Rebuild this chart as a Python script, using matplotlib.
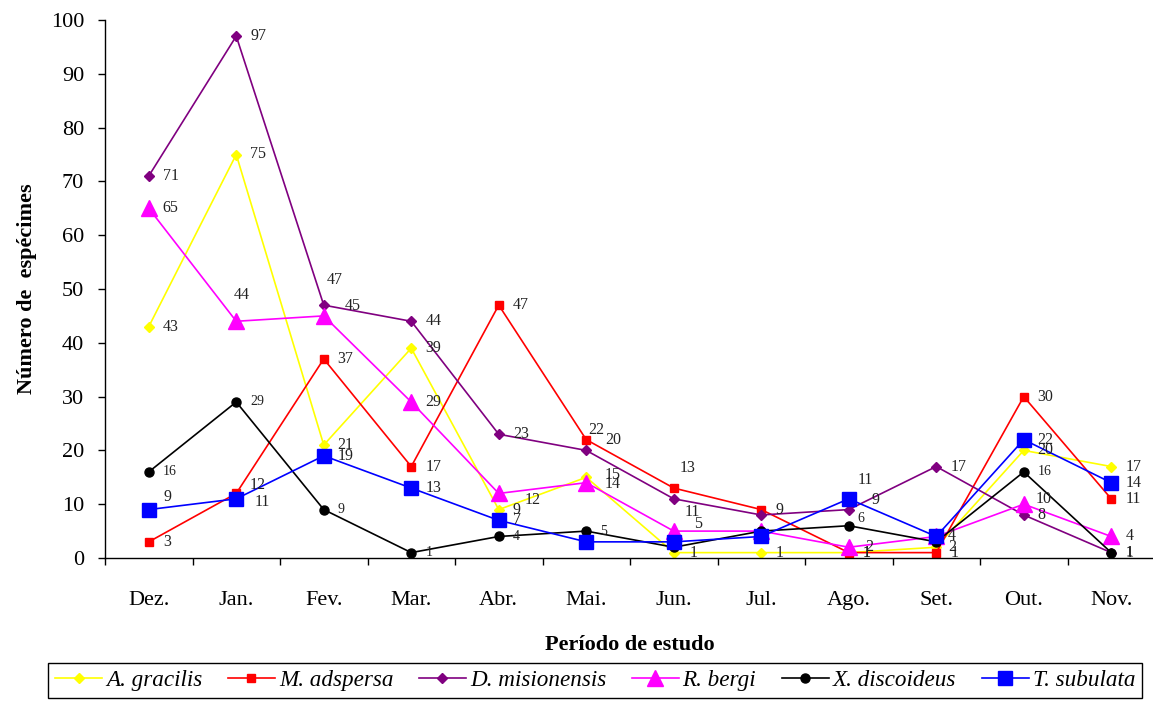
import matplotlib
matplotlib.use("Agg")
import matplotlib.pyplot as plt
from matplotlib.ticker import FixedLocator, MultipleLocator, NullFormatter

# ── data ─────────────────────────────────────────────────────────────────────
months = ["Dez.", "Jan.", "Fev.", "Mar.", "Abr.", "Mai.",
          "Jun.", "Jul.", "Ago.", "Set.", "Out.", "Nov."]

a_gracilis    = [43, 75, 21, 39,  9, 15,  1, 1,  1,  2, 20, 17]
m_adspersa    = [ 3, 12, 37, 17, 47, 22, 13, 9,  1,  1, 30, 11]
d_misionensis = [71, 97, 47, 44, 23, 20, 11, 8,  9, 17,  8,  1]
r_bergi       = [65, 44, 45, 29, 12, 14,  5, 5,  2,  4, 10,  4]
x_discoideus  = [16, 29,  9,  1,  4,  5,  2, 5,  6,  3, 16,  1]
t_subulata    = [ 9, 11, 19, 13,  7,  3,  3, 4, 11,  4, 22, 14]

# ── style ─────────────────────────────────────────────────────────────────────
plt.rcParams.update({
    "font.family": "Liberation Serif",
    "axes.spines.top": False, "axes.spines.right": False,
})

# key, values, legend name, colour, marker, marker size, label size
series = [
    ("ag", a_gracilis,    "A. gracilis",    "#FFFF00", "D", 5.0,  11.5),
    ("ma", m_adspersa,    "M. adspersa",    "#FF0000", "s", 6.0,  11.5),
    ("dm", d_misionensis, "D. misionensis", "#800080", "D", 5.0,  11.5),
    ("rb", r_bergi,       "R. bergi",       "#FF00FF", "^", 12.0, 11.5),
    ("xd", x_discoideus,  "X. discoideus",  "#000000", "o", 6.5,  10),
    ("ts", t_subulata,    "T. subulata",    "#0000FF", "s", 10.0, 11.5),
]

# value-label placement (pixels right / up of the point); default is just right
DEFAULT_OFF = (14, 0)
label_off = {
    ("dm", 2): (3, 25),  ("rb", 1): (-2, 26), ("ma", 1): (13, 8),
    ("ts", 1): (18, -3), ("rb", 2): (21, 10), ("ts", 0): (15, 13),
    ("ma", 5): (2, 10),  ("dm", 5): (19, 10), ("ag", 5): (18, 2),
    ("rb", 5): (18, -1), ("ma", 6): (6, 20),  ("dm", 6): (11, -13),
    ("rb", 6): (20, 7),  ("ag", 6): (16, 0),  ("ts", 8): (9, 19),
    ("dm", 8): (23, 10), ("xd", 8): (9, 7),   ("rb", 8): (17, 0),
    ("rb", 10): (12, 5), ("rb", 4): (26, -7), ("ag", 9): (12, 0),
    ("ts", 9): (12, 0),
}
no_label = {("ts", 5), ("ts", 6), ("xd", 6), ("ts", 7), ("xd", 7),
            ("rb", 7), ("dm", 7), ("rb", 9), ("xd", 9)}

# ── figure ────────────────────────────────────────────────────────────────────
fig = plt.figure(figsize=(11.53, 7.02), dpi=100)
ax = fig.add_axes([105 / 1153, 1 - 558 / 702, 1050 / 1153, 538 / 702])

x = list(range(len(months)))
for key, vals, name, color, mk, ms, fs in series:
    ax.plot(x, vals, color=color, lw=1.2, marker=mk, ms=ms,
            markerfacecolor=color, markeredgecolor=color, label=name,
            clip_on=False)
    for i, v in enumerate(vals):
        if (key, i) in no_label:
            continue
        dx, dy = label_off.get((key, i), DEFAULT_OFF)
        ax.annotate(str(v), xy=(i, v), xytext=(dx, dy),
                    textcoords="offset pixels", ha="left", va="center",
                    fontsize=fs, color="#222222")

ax.set_xlim(-0.5, len(months) - 0.5)
ax.set_ylim(0, 100)
ax.yaxis.set_major_locator(MultipleLocator(10))

# category ticks sit between months; labels are centred on the months
ax.xaxis.set_major_locator(FixedLocator([i - 0.5 for i in range(len(months) + 1)]))
ax.xaxis.set_major_formatter(NullFormatter())
ax.xaxis.set_minor_locator(FixedLocator(x))
ax.set_xticklabels(months, minor=True)
ax.tick_params(axis="x", which="major", direction="out", length=5, width=1)
ax.tick_params(axis="x", which="minor", length=0, pad=24, labelsize=16)
ax.tick_params(axis="y", direction="out", length=5, width=1, pad=10,
               labelsize=16)
for s in ("left", "bottom"):
    ax.spines[s].set_linewidth(1)
    ax.spines[s].set_color("black")

ax.set_ylabel("Número de  espécimes", fontsize=16, fontweight="bold",
              labelpad=10)
ax.set_xlabel("Período de estudo", fontsize=16, fontweight="bold",
              labelpad=18)

# legend box runs to the right edge of the figure
leg = fig.legend(loc="upper left", ncol=6,
                 bbox_to_anchor=(48 / 1153, 1 - 663 / 702),
                 borderaxespad=0, fancybox=False, framealpha=1,
                 edgecolor="black", handlelength=2.03, handletextpad=0.17,
                 columnspacing=1.1, borderpad=0.3,
                 prop={"family": "Liberation Serif", "style": "italic",
                       "size": 16.7})
leg.get_frame().set_linewidth(1)

fig.savefig("out.png", dpi=100)
